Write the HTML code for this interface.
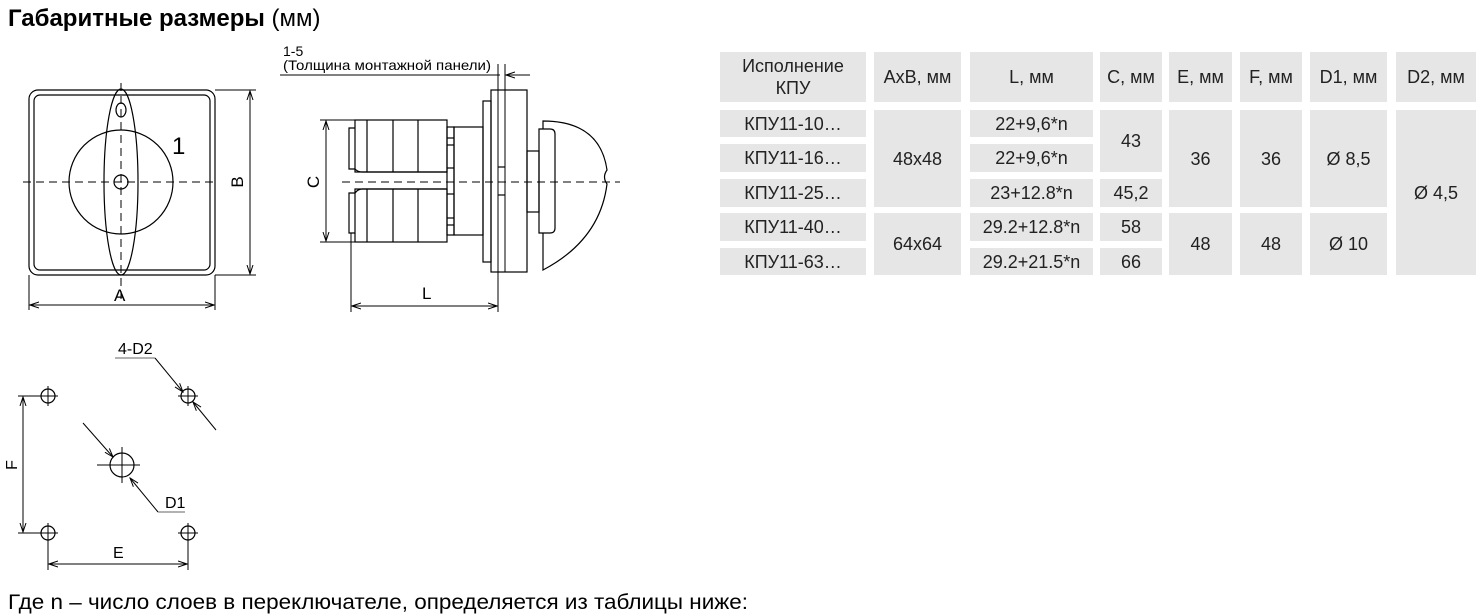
<!DOCTYPE html>
<html><head><meta charset="utf-8">
<style>
body{margin:0;background:#fff;width:1483px;height:614px;overflow:hidden;position:relative;font-family:"Liberation Sans","Noto Sans CJK SC",sans-serif;}
.c{position:absolute;background:#e6e6e6;display:flex;align-items:center;justify-content:center;text-align:center;font-size:18px;color:#222;line-height:22px;}
</style></head><body>
<svg width="1483" height="614" style="position:absolute;left:0;top:0" font-family="Liberation Sans, sans-serif">
<defs>
<marker id="a" markerWidth="10" markerHeight="8" refX="9" refY="4" orient="auto-start-reverse" markerUnits="userSpaceOnUse"><path d="M0,1 L9,4 L0,7" fill="none" stroke="#000" stroke-width="1"/></marker>
</defs>
<text x="8" y="26" font-size="24" font-weight="bold">Габаритные размеры <tspan font-weight="normal">(мм)</tspan></text>
<g stroke="#000" fill="none" stroke-width="1.2">
<rect x="29" y="90" width="186" height="185" rx="9"/>
<rect x="34" y="95" width="176" height="175" rx="6"/>
<circle cx="121" cy="182" r="52"/>
<ellipse cx="121" cy="182" rx="17" ry="93"/>
<ellipse cx="121" cy="110" rx="5" ry="7"/>
<circle cx="121" cy="182" r="7"/>
<line x1="23" y1="182" x2="215" y2="182" stroke-dasharray="8,5" stroke-width="1"/>
<line x1="121" y1="83" x2="121" y2="300" stroke-dasharray="8,5" stroke-width="1"/>
<line x1="215" y1="90" x2="256" y2="90" stroke-width="1"/>
<line x1="215" y1="275" x2="256" y2="275" stroke-width="1"/>
<line x1="250" y1="91" x2="250" y2="274" stroke-width="1" marker-start="url(#a)" marker-end="url(#a)"/>
<line x1="29" y1="275" x2="29" y2="310" stroke-width="1"/>
<line x1="215" y1="275" x2="215" y2="310" stroke-width="1"/>
<line x1="30" y1="305" x2="214" y2="305" stroke-width="1" marker-start="url(#a)" marker-end="url(#a)"/>
<line x1="280" y1="75" x2="500" y2="75" stroke-width="1"/>
<line x1="498" y1="64" x2="498" y2="312" stroke-width="1"/>
<line x1="505" y1="64" x2="505" y2="272" stroke-width="1"/>
<line x1="530" y1="75" x2="506" y2="75" stroke-width="1" marker-end="url(#a)"/>
<rect x="491" y="90" width="36" height="182"/>
<rect x="483" y="101" width="8" height="161"/>
<rect x="355" y="120" width="92" height="52"/>
<rect x="355" y="189" width="92" height="53"/>
<line x1="367" y1="120" x2="367" y2="172"/><line x1="393" y1="120" x2="393" y2="172"/><line x1="418" y1="120" x2="418" y2="172"/>
<line x1="367" y1="189" x2="367" y2="242"/><line x1="393" y1="189" x2="393" y2="242"/><line x1="418" y1="189" x2="418" y2="242"/>
<path d="M355,128 H349 V169 H355 Q358,172 362,172 H447"/>
<path d="M355,233 H349 V193 H355 Q358,189 362,189 H447"/>
<rect x="447" y="127" width="7" height="108"/>
<line x1="447" y1="138" x2="454" y2="138"/><line x1="447" y1="145" x2="454" y2="145"/>
<line x1="447" y1="168" x2="454" y2="168"/><line x1="447" y1="194" x2="454" y2="194"/>
<line x1="447" y1="218" x2="454" y2="218"/><line x1="447" y1="225" x2="454" y2="225"/>
<rect x="454" y="127" width="29" height="108"/>
<rect x="527" y="151" width="12" height="61"/>
<path d="M539,129 H550 Q555,129 555,134 V228 Q555,233 550,233 H539 Z"/>
<path d="M543,129 V121 Q600,121 607,170 Q602,177 607,184 Q600,240 543,270 V233"/>
<line x1="498" y1="167" x2="505" y2="167"/><line x1="498" y1="195" x2="505" y2="195"/>
<line x1="342" y1="182" x2="620" y2="182" stroke-dasharray="8,5" stroke-width="1"/>
<line x1="320" y1="120" x2="355" y2="120" stroke-width="1"/>
<line x1="320" y1="242" x2="355" y2="242" stroke-width="1"/>
<line x1="326" y1="121" x2="326" y2="241" stroke-width="1" marker-start="url(#a)" marker-end="url(#a)"/>
<line x1="351" y1="233" x2="351" y2="312" stroke-width="1"/>
<line x1="352" y1="306" x2="497" y2="306" stroke-width="1" marker-start="url(#a)" marker-end="url(#a)"/>
<g stroke-width="1.2">
<circle cx="48" cy="396" r="7"/><circle cx="188" cy="396" r="7"/><circle cx="48" cy="533" r="7"/><circle cx="188" cy="533" r="7"/>
<circle cx="122" cy="465" r="12"/>
</g>
<g stroke-width="1">
<path d="M38,396 H58 M48,386 V406 M178,396 H198 M188,386 V406 M38,533 H58 M48,523 V543 M178,533 H198 M188,523 V543 M97,465 H140 M122,447 V483"/>
<line x1="18" y1="396" x2="42" y2="396"/><line x1="18" y1="533" x2="42" y2="533"/>
<line x1="23" y1="397" x2="23" y2="532" marker-start="url(#a)" marker-end="url(#a)"/>
<line x1="48" y1="540" x2="48" y2="570"/><line x1="188" y1="540" x2="188" y2="570"/>
<line x1="49" y1="564" x2="187" y2="564" marker-start="url(#a)" marker-end="url(#a)"/>
<line x1="115" y1="358" x2="155" y2="358" stroke="#666"/>
<line x1="155" y1="358" x2="183" y2="392" marker-end="url(#a)"/>
<line x1="216" y1="430" x2="193" y2="402" marker-end="url(#a)"/>
<line x1="83" y1="423" x2="113" y2="457" marker-end="url(#a)"/>
<line x1="158" y1="512" x2="130" y2="478" marker-end="url(#a)"/>
<line x1="158" y1="512" x2="185" y2="512" stroke="#666"/>
</g>
</g>
<g font-size="17" fill="#000">
<text x="172" y="154" font-size="24">1</text>
<text x="114" y="301">A</text>
<text x="243" y="182" transform="rotate(-90 243 182)" text-anchor="middle">B</text>
<text x="319" y="182" transform="rotate(-90 319 182)" text-anchor="middle">C</text>
<text x="422" y="299">L</text>
<text x="283" y="56" font-size="14">1-5</text>
<text x="283" y="70" font-size="14" textLength="208" lengthAdjust="spacingAndGlyphs">(Толщина монтажной панели)</text>
<text x="118" y="354" font-size="16">4-D2</text>
<text x="165" y="508" font-size="16">D1</text>
<text x="113" y="558" font-size="16">E</text>
<text x="17" y="465" font-size="16" transform="rotate(-90 17 465)" text-anchor="middle">F</text>
</g>
<text x="8" y="609" font-size="21" textLength="740" lengthAdjust="spacingAndGlyphs">Где n – число слоев в переключателе, определяется из таблицы ниже:</text>
</svg>
<div class="c" style="left:720px;top:52px;width:146px;height:50px">Исполнение<br>КПУ</div>
<div class="c" style="left:874px;top:52px;width:87px;height:50px">AxB, мм</div>
<div class="c" style="left:970px;top:52px;width:123px;height:50px">L, мм</div>
<div class="c" style="left:1100px;top:52px;width:62px;height:50px">C, мм</div>
<div class="c" style="left:1169px;top:52px;width:63px;height:50px">E, мм</div>
<div class="c" style="left:1240px;top:52px;width:62px;height:50px">F, мм</div>
<div class="c" style="left:1310px;top:52px;width:77px;height:50px">D1, мм</div>
<div class="c" style="left:1396px;top:52px;width:80px;height:50px">D2, мм</div>

<div class="c" style="left:720px;top:110px;width:146px;height:27px">КПУ11-10…</div>
<div class="c" style="left:720px;top:144px;width:146px;height:28px">КПУ11-16…</div>
<div class="c" style="left:720px;top:179px;width:146px;height:28px">КПУ11-25…</div>
<div class="c" style="left:720px;top:213px;width:146px;height:28px">КПУ11-40…</div>
<div class="c" style="left:720px;top:248px;width:146px;height:27px">КПУ11-63…</div>

<div class="c" style="left:874px;top:110px;width:87px;height:97px">48x48</div>
<div class="c" style="left:874px;top:213px;width:87px;height:62px">64x64</div>

<div class="c" style="left:970px;top:110px;width:123px;height:27px">22+9,6*n</div>
<div class="c" style="left:970px;top:144px;width:123px;height:28px">22+9,6*n</div>
<div class="c" style="left:970px;top:179px;width:123px;height:28px">23+12.8*n</div>
<div class="c" style="left:970px;top:213px;width:123px;height:28px">29.2+12.8*n</div>
<div class="c" style="left:970px;top:248px;width:123px;height:27px">29.2+21.5*n</div>

<div class="c" style="left:1100px;top:110px;width:62px;height:62px">43</div>
<div class="c" style="left:1100px;top:179px;width:62px;height:28px">45,2</div>
<div class="c" style="left:1100px;top:213px;width:62px;height:28px">58</div>
<div class="c" style="left:1100px;top:248px;width:62px;height:27px">66</div>

<div class="c" style="left:1169px;top:110px;width:63px;height:97px">36</div>
<div class="c" style="left:1169px;top:213px;width:63px;height:62px">48</div>
<div class="c" style="left:1240px;top:110px;width:62px;height:97px">36</div>
<div class="c" style="left:1240px;top:213px;width:62px;height:62px">48</div>
<div class="c" style="left:1310px;top:110px;width:77px;height:97px">Ø 8,5</div>
<div class="c" style="left:1310px;top:213px;width:77px;height:62px">Ø 10</div>
<div class="c" style="left:1396px;top:110px;width:80px;height:165px">Ø 4,5</div>
</body></html>
